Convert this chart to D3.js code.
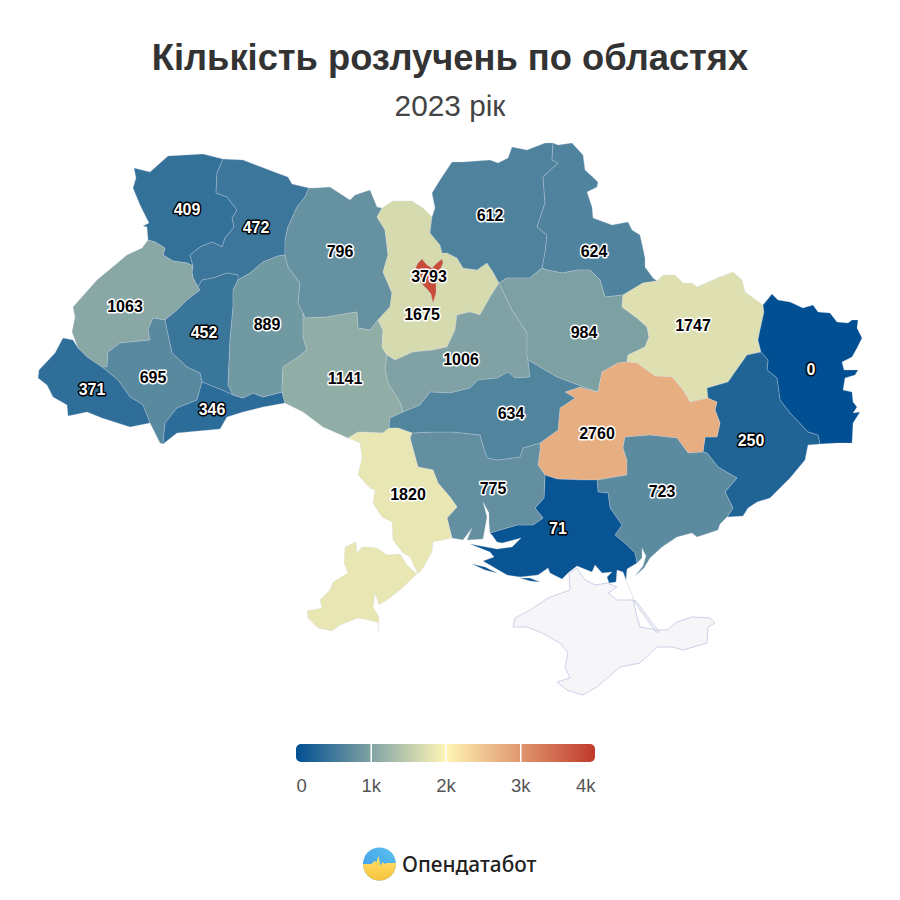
<!DOCTYPE html>
<html>
<head>
<meta charset="utf-8">
<script src="https://cdnjs.cloudflare.com/ajax/libs/d3/7.8.5/d3.min.js"></script>
<style>
html,body{margin:0;padding:0;background:#fff;}
</style>
</head>
<body>
<div id="chart"></div>
<script>
// values
var regionNames = ["volyn","rivne","lviv","ternopil","ivanofrankivsk","zakarpattia","chernivtsi","khmelnytskyi","zhytomyr","vinnytsia","kyivobl","cherkasy","chernihiv","sumy","poltava","kharkiv","luhansk","donetsk","dnipro","zaporizhzhia","kherson","mykolaiv","kirovohrad","odesa","kyivcity"];
var regionValues = [409,472,1063,452,695,371,346,889,796,1141,1675,1006,612,624,984,1747,0,250,2760,723,71,775,634,1820,3793];
var stopValues = [0,2000,4000];
var stopColors = ["#004f92","#fff5b5","#c0392b"];
var legendTicks = [0,1000,2000,3000,4000];

// map outline, traced in page units. every shared border is kept once
var borders = {
	volOut:[[148,240],[147,227],[143,226],[149,223],[140,205],[133,188],[136,178],[134,168],[150,172],[168,156],[203,154],[223,159]],
	volRiv:[[223,159],[217,173],[216,193],[227,197],[237,210],[232,218],[234,227],[225,238],[222,247],[212,242],[200,247],[190,255],[193,266]],
	volLv:[[193,266],[187,263],[173,261],[163,255],[165,248],[155,242],[148,240]],
	rivOut:[[223,159],[243,160],[277,173],[288,177],[292,184],[309,188]],
	rivZhy:[[309,188],[305,197],[297,207],[288,227],[285,240],[285,255]],
	rivKhm:[[285,255],[278,256],[263,262],[250,273],[238,280]],
	rivTer:[[238,280],[238,275],[227,273],[213,278],[202,280],[198,287]],
	rivLv:[[198,287],[193,278],[192,272],[193,266]],
	lvOut:[[148,240],[142,248],[127,255],[97,280],[73,307],[75,317],[72,332],[78,348]],
	lvZak:[[78,348],[87,357],[102,367]],
	lvIf:[[102,367],[107,367],[108,352],[120,343],[150,340],[148,330],[153,318],[165,320]],
	lvTer:[[165,320],[177,310],[187,300],[200,290],[198,287]],
	terKhm:[[238,280],[233,290],[233,307],[230,340],[228,385],[233,395]],
	terChv:[[233,395],[222,390],[202,382]],
	terIf:[[202,382],[200,373],[187,367],[172,353],[167,330],[165,320]],
	ifZak:[[102,367],[118,380],[130,397],[143,405],[150,423]],
	ifOut:[[150,423],[160,443],[163,444]],
	ifChv:[[163,444],[165,423],[177,408],[197,400],[202,382]],
	zakOut:[[78,348],[73,340],[63,338],[55,353],[39,370],[38,378],[47,385],[53,397],[67,405],[68,416],[87,412],[102,418],[130,427],[150,423]],
	chvOut:[[163,444],[177,433],[220,429],[227,417],[243,412],[263,407],[285,403]],
	chvVin:[[285,403],[282,392]],
	chvKhm:[[282,392],[263,397],[253,393],[243,398],[233,395]],
	khmZhy:[[285,255],[288,267],[300,283],[298,303],[303,313]],
	khmVin:[[303,313],[303,337],[307,350],[297,358],[283,367],[282,387],[282,392]],
	zhyOut:[[309,188],[315,188],[330,187],[350,200],[355,195],[370,190],[377,207],[382,208]],
	zhyKyiv:[[382,208],[377,217],[385,230],[388,255],[383,272],[392,293],[390,307],[378,320]],
	zhyVin:[[378,320],[370,330],[358,328],[357,312],[350,313],[327,317],[305,318],[303,313]],
	vinKyiv:[[378,320],[383,330],[382,347],[387,355]],
	vinCher:[[387,355],[385,368],[388,383],[400,402],[403,412]],
	vinKir:[[403,412],[390,418],[389,428]],
	vinOde:[[389,428],[383,433],[358,432],[348,438]],
	vinOut:[[348,438],[323,427],[303,412],[285,403]],
	kyivOut:[[382,208],[393,201],[412,201],[423,208],[432,217]],
	kyivChern:[[432,217],[430,233],[440,245],[442,253],[447,253],[457,258],[463,268],[477,270],[487,263],[493,272],[499,283]],
	kyivCher:[[499,283],[490,297],[480,315],[470,312],[457,315],[455,330],[447,347],[433,350],[413,352],[395,360],[387,355]],
	cherPol:[[499,283],[512,310],[527,333],[527,357],[528,360]],
	cherKir:[[528,360],[530,377],[515,378],[508,372],[497,378],[478,380],[470,388],[450,393],[430,392],[420,405],[403,412]],
	chernOut:[[432,217],[435,208],[432,193],[440,180],[452,162],[463,162],[490,160],[498,163],[508,158],[512,147],[527,150],[545,143],[553,143]],
	chernSumy:[[553,143],[552,160],[558,163],[543,177],[545,203],[537,227],[547,235],[545,253],[542,268]],
	chernPol:[[542,268],[530,278],[507,278],[499,283]],
	sumyOut:[[553,143],[558,145],[572,143],[583,155],[585,170],[598,182],[597,187],[587,192],[592,207],[593,218],[612,225],[628,222],[632,230],[640,235],[645,258],[645,267],[653,278],[657,281]],
	sumyKh:[[657,281],[643,283],[623,295]],
	sumyPol:[[623,295],[605,297],[600,280],[590,270],[578,270],[562,273],[547,270],[542,268]],
	polKh:[[623,295],[622,307],[637,318],[647,327],[649,337],[645,347],[628,355],[627,362]],
	polDn:[[627,362],[618,363],[602,372],[598,392]],
	polKir:[[598,392],[578,385],[557,377],[528,360]],
	khOut:[[657,281],[663,275],[675,275],[683,283],[692,283],[697,287],[717,278],[733,272],[742,280],[745,292],[763,305]],
	khLu:[[763,305],[764,312],[760,330],[758,340],[761,352]],
	khDon:[[761,352],[747,355],[735,372],[728,382],[707,388],[708,398]],
	khDn:[[708,398],[690,402],[683,390],[672,377],[655,376],[637,363],[627,362]],
	luOut:[[763,305],[772,294],[778,300],[790,302],[803,308],[813,305],[818,312],[830,313],[837,322],[848,323],[852,320],[858,320],[857,328],[862,338],[857,348],[852,357],[842,362],[844,370],[858,370],[855,375],[845,378],[843,390],[852,392],[853,402],[857,407],[853,413],[860,412],[853,423],[852,443],[837,443],[820,444]],
	luDon:[[820,444],[818,435],[808,432],[790,413],[780,400],[777,378],[767,370],[768,360],[761,352]],
	donOut:[[820,444],[808,445],[805,460],[790,478],[770,498],[757,502],[748,508],[743,516],[727,517]],
	zapDon:[[703,452],[707,453],[718,467],[737,478],[725,492],[733,508],[727,517]],
	dnDon:[[708,398],[712,400],[717,402],[715,410],[720,423],[717,437],[705,437],[703,452]],
	dnZap:[[703,452],[688,453],[677,438],[650,435],[625,437],[623,448],[627,460],[627,475],[597,480]],
	dnKhe:[[597,480],[583,480],[557,479],[545,475]],
	dnMyk:[[545,475],[538,465],[540,450],[540,443]],
	dnKir:[[540,443],[558,430],[560,408],[575,398],[565,392],[580,387],[598,392]],
	zapOut:[[727,517],[720,524],[718,530],[697,537],[692,533],[677,537],[662,547],[650,558],[644,568],[635,576],[643,566],[646,556],[642,548],[642,558],[637,563]],
	zapKhe:[[637,563],[635,553],[627,545],[615,535],[622,525],[610,508],[608,493],[598,492],[597,480]],
	kheOut:[[637,563],[627,569],[626,580],[635,602],[630,590],[623,572],[617,570],[616,582],[609,583],[607,577],[612,572],[602,573],[595,565],[592,572],[577,566],[569,572],[562,579],[550,573],[548,568],[538,575],[520,577],[507,575],[483,561],[494,557],[490,552],[470,544],[497,549],[512,547],[521,538],[502,543],[497,542],[492,535],[490,533]],
	mykKhe:[[490,533],[517,525],[533,525],[543,518],[535,508],[544,498],[545,475]],
	mykOut:[[490,533],[489,523],[489,513],[483,502],[487,517],[485,528],[483,539],[467,540],[472,528],[463,540],[452,538]],
	kirMyk:[[412,433],[433,432],[453,432],[480,435],[487,458],[498,460],[520,457],[523,448],[540,443]],
	kirOde:[[412,433],[398,428],[389,428]],
	odeMyk:[[412,433],[410,438],[418,467],[433,470],[438,483],[450,497],[457,507],[447,518],[452,538]],
	odeOut:[[452,538],[433,542],[432,552],[423,568],[418,574],[416,570],[410,557],[403,553],[393,540],[392,522],[382,517],[373,503],[375,490],[370,488],[358,475],[362,458],[360,443],[348,438]]
};

var regionBorders = {
	volyn:["volOut","volRiv","volLv"],
	rivne:["rivOut","rivZhy","rivKhm","rivTer","rivLv","-volRiv"],
	lviv:["lvOut","lvZak","lvIf","lvTer","rivLv","volLv"],
	ternopil:["lvTer","-rivTer","terKhm","terChv","terIf"],
	ivanofrankivsk:["-lvIf","ifZak","ifOut","ifChv","terIf"],
	zakarpattia:["zakOut","-ifZak","-lvZak"],
	chernivtsi:["chvOut","chvVin","chvKhm","terChv","-ifChv"],
	khmelnytskyi:["-rivKhm","khmZhy","khmVin","chvKhm","-terKhm"],
	zhytomyr:["zhyOut","zhyKyiv","zhyVin","-khmZhy","-rivZhy"],
	vinnytsia:["-zhyVin","vinKyiv","vinCher","vinKir","vinOde","vinOut","chvVin","-khmVin"],
	kyivobl:["kyivOut","kyivChern","kyivCher","-vinKyiv","-zhyKyiv"],
	cherkasy:["-kyivCher","cherPol","cherKir","-vinCher"],
	chernihiv:["chernOut","chernSumy","chernPol","-kyivChern"],
	sumy:["sumyOut","sumyKh","sumyPol","-chernSumy"],
	poltava:["-chernPol","-sumyPol","polKh","polDn","polKir","-cherPol"],
	kharkiv:["khOut","khLu","khDon","khDn","-polKh","-sumyKh"],
	luhansk:["luOut","luDon","-khLu"],
	donetsk:["-luDon","donOut","-zapDon","-dnDon","-khDon"],
	dnipro:["-khDn","dnDon","dnZap","dnKhe","dnMyk","dnKir","-polDn"],
	zaporizhzhia:["-dnZap","zapDon","zapOut","zapKhe"],
	kherson:["-zapKhe","kheOut","mykKhe","-dnKhe"],
	mykolaiv:["kirMyk","-dnMyk","-mykKhe","mykOut","-odeMyk"],
	kirovohrad:["-cherKir","-polKir","-dnKir","-kirMyk","kirOde","-vinKir"],
	odesa:["-vinOde","-kirOde","odeMyk","odeOut"]
};

// pieces that stand apart from the rings above
var extraRings = {
	kherson:[[[472,564],[485,567],[497,573],[485,570]],[[520,578],[530,578],[540,582],[530,581]]],
	odesa:[[[400,554],[387,555],[377,548],[368,547],[362,547],[357,553],[356,542],[345,547],[344,563],[348,573],[333,582],[330,590],[320,600],[322,608],[307,611],[308,618],[318,628],[332,631],[340,625],[358,618],[373,621],[379,623],[378,633],[379,617],[373,607],[375,593],[379,605],[387,600],[400,590],[417,574],[407,565],[402,557]]]
};
var kyivCityRing = [[418,263],[422,259],[427,265],[432,268],[437,263],[442,259],[443,263],[438,275],[436,282],[436,293],[433,303],[431,294],[427,289],[421,283],[414,279],[413,273]];
var crimeaRings = [
	[[569,573],[577,568],[585,580],[595,585],[607,583],[617,587],[608,593],[617,600],[633,600],[637,617],[640,627],[657,630],[667,630],[677,622],[692,617],[710,618],[715,623],[708,627],[707,643],[683,650],[673,647],[657,647],[640,663],[620,667],[597,687],[583,695],[567,690],[557,682],[570,678],[565,667],[568,653],[560,643],[542,633],[527,627],[513,627],[515,618],[530,610],[548,598],[570,590]],
	[[633,600],[636,601],[659,632],[656,632]]
];

var labelAnchors = {
	volyn:[187,209],rivne:[256,227],lviv:[125,306],ternopil:[204,332],ivanofrankivsk:[153,377],zakarpattia:[92,389],chernivtsi:[212,409],
	khmelnytskyi:[267,324],zhytomyr:[340,251],vinnytsia:[345,378],kyivobl:[422,314],cherkasy:[461,359],chernihiv:[490,215],sumy:[594,251],
	poltava:[584,332],kharkiv:[693,325],luhansk:[811,369],donetsk:[751,440],dnipro:[597,433],zaporizhzhia:[662,491],kherson:[558,528],
	mykolaiv:[493,488],kirovohrad:[511,413],odesa:[408,494],kyivcity:[429,276]
};

var svg = d3.select("#chart").append("svg")
	.attr("width", 900)
	.attr("height", 900)
	.style("display", "block");

svg.append("text")
	.text("Кількість розлучень по областях")
	.attr("x", 450)
	.attr("y", 70)
	.attr("text-anchor", "middle")
	.attr("font-family", "'Liberation Sans', Arial, sans-serif")
	.attr("font-weight", "bold")
	.attr("font-size", 36.3)
	.attr("fill", "#333333");
svg.append("text")
	.text("2023 рік")
	.attr("x", 450)
	.attr("y", 116)
	.attr("text-anchor", "middle")
	.attr("font-family", "'Liberation Sans', Arial, sans-serif")
	.attr("font-size", 29.8)
	.attr("fill", "#444444");

var color = d3.scaleLinear().domain(stopValues).range(stopColors);
var path = d3.geoPath(d3.geoIdentity());

function ringOf(names){
	var ring = [];
	names.forEach(function(n){
		var pts = n[0] == "-" ? borders[n.slice(1)].slice().reverse() : borders[n];
		ring = ring.concat(pts);
	});
	ring.push(ring[0]);
	return ring;
}
function closed(r){ return r.concat([r[0]]); }

var features = regionNames.map(function(name, i){
	var rings = name == "kyivcity" ? [closed(kyivCityRing)] : [ringOf(regionBorders[name])];
	(extraRings[name] || []).forEach(function(r){ rings.push(closed(r)); });
	return {
		type: "Feature",
		properties: {name: name, value: regionValues[i]},
		geometry: {type: "MultiPolygon", coordinates: rings.map(function(r){ return [r]; })}
	};
});

var mapG = svg.append("g").attr("class", "map");

mapG.selectAll("path.crimea")
	.data([{type: "MultiPolygon", coordinates: crimeaRings.map(function(r){ return [closed(r)]; })}])
	.enter().append("path")
	.attr("class", "crimea")
	.attr("d", path)
	.attr("fill", "#f6f6f9")
	.attr("stroke", "#cdd1e8")
	.attr("stroke-width", 1);

mapG.selectAll("path.region")
	.data(features)
	.enter().append("path")
	.attr("class", "region")
	.attr("d", path)
	.attr("fill", function(d){ return color(d.properties.value); })
	.attr("stroke", "#cdd3e6")
	.attr("stroke-opacity", 0.28)
	.attr("stroke-width", 1)
	.attr("stroke-linejoin", "round");

mapG.selectAll("text")
	.data(features)
	.enter().append("text")
	.text(function(d){ return d.properties.value; })
	.attr("x", function(d){ return labelAnchors[d.properties.name][0]; })
	.attr("y", function(d){ return labelAnchors[d.properties.name][1]; })
	.attr("dy", "0.36em")
	.attr("text-anchor", "middle")
	.attr("font-family", "'Liberation Sans', Arial, sans-serif")
	.attr("font-weight", "bold")
	.attr("font-size", 16)
	.attr("fill", function(d){ return d.properties.value < 500 ? "#ffffff" : "#000000"; })
	.attr("stroke", function(d){ return d.properties.value < 500 ? "#000000" : "#ffffff"; })
	.attr("stroke-width", 3)
	.attr("stroke-linejoin", "round")
	.style("paint-order", "stroke");

// legend
var defs = svg.append("defs");
var grad = defs.append("linearGradient").attr("id", "legendGrad");
grad.selectAll("stop").data(stopValues)
	.enter().append("stop")
	.attr("offset", function(d){ return d / 4000; })
	.attr("stop-color", function(d){ return color(d); });

var legendX = d3.scaleLinear().domain([0,4000]).range([296,595]);

svg.append("rect")
	.attr("x", legendX(0))
	.attr("y", 744)
	.attr("width", legendX(4000) - legendX(0))
	.attr("height", 18)
	.attr("rx", 5)
	.attr("fill", "url(#legendGrad)");

var legendAxis = svg.append("g")
	.attr("transform", "translate(0,762)")
	.call(d3.axisBottom(legendX).tickValues(legendTicks).tickSize(0).tickPadding(17)
		.tickFormat(function(d){ return d == 0 ? "0" : (d / 1000) + "k"; }));
legendAxis.select(".domain").remove();
legendAxis.selectAll("text")
	.attr("font-family", "'Liberation Sans', Arial, sans-serif")
	.attr("font-size", 18.5)
	.attr("fill", "#555555")
	.attr("text-anchor", function(d){ return d == 0 ? "start" : (d == 4000 ? "end" : "middle"); });
legendAxis.selectAll("line")
	.attr("y1", -18)
	.attr("y2", 0)
	.attr("stroke", "#ffffff")
	.attr("stroke-width", function(d){ return d == 0 || d == 4000 ? 0 : 1.5; });

// logo
var blue = defs.append("linearGradient").attr("id", "logoBlue").attr("x1", 0).attr("y1", 1).attr("x2", 1).attr("y2", 0);
blue.append("stop").attr("offset", 0).attr("stop-color", "#3d9be8");
blue.append("stop").attr("offset", 1).attr("stop-color", "#5cc0ee");
var yellow = defs.append("linearGradient").attr("id", "logoYellow").attr("x1", 0).attr("y1", 0).attr("x2", 0).attr("y2", 1);
yellow.append("stop").attr("offset", 0).attr("stop-color", "#ffe06a");
yellow.append("stop").attr("offset", 1).attr("stop-color", "#f7c23c");
defs.append("clipPath").attr("id", "logoClip").append("circle").attr("r", 16.5);

var logo = svg.append("g").attr("transform", "translate(379.5,864)");
logo.append("circle").attr("r", 16.5).attr("fill", "url(#logoBlue)");
logo.append("path")
	.attr("clip-path", "url(#logoClip)")
	.attr("d", "M-17,0 L-8,0 L-5,-3 L-3,-2 L-1,-8 L1,2 L3,-2 L5,0 L7,-1 L17,-1 L17,17 L-17,17 Z")
	.attr("fill", "url(#logoYellow)");

svg.append("text")
	.text("Опендатабот")
	.attr("x", 402)
	.attr("y", 872)
	.attr("font-family", "'Noto Sans', sans-serif")
	.attr("font-weight", 500)
	.attr("font-size", 20.8)
	.attr("fill", "#222222");
</script>
</body>
</html>
